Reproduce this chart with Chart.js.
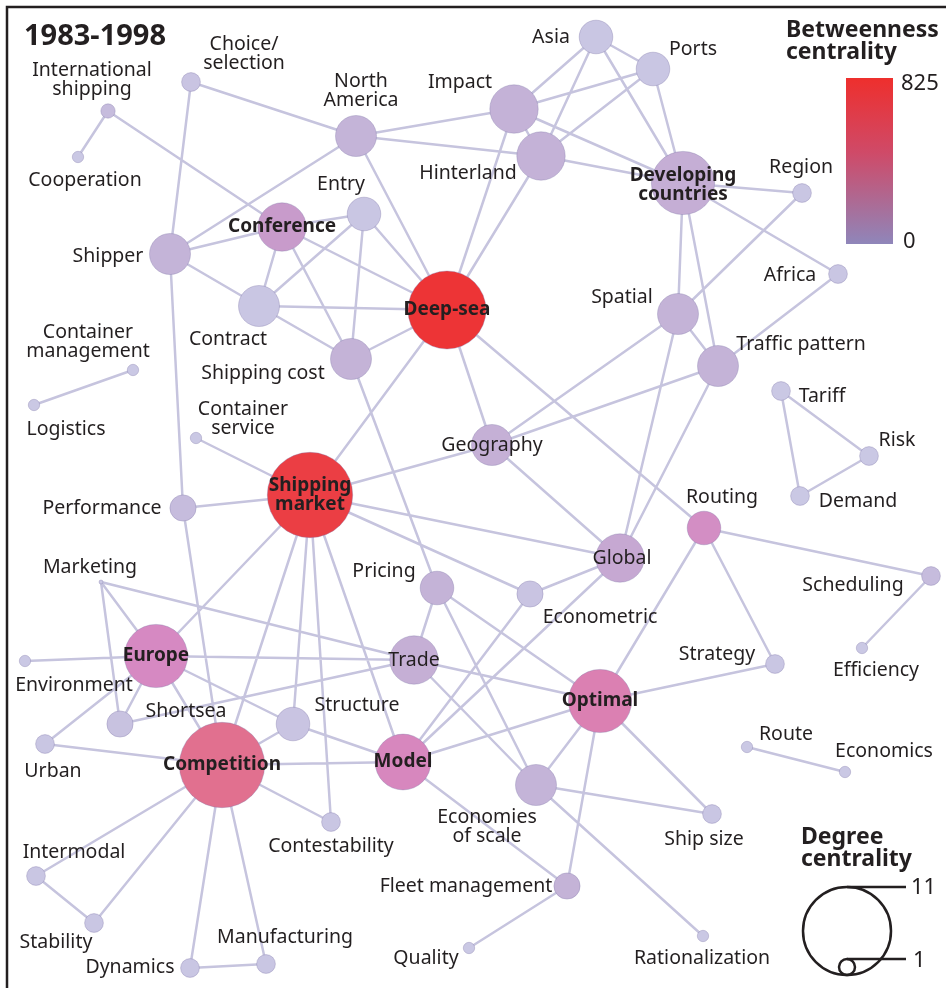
<!DOCTYPE html>
<html>
<head>
<meta charset="utf-8">
<script src="https://cdn.jsdelivr.net/npm/chart.js@4.4.1/dist/chart.umd.min.js"></script>
<style>
  body { margin: 0; background: #fff; }
  #wrap { width: 946px; height: 988px; }
</style>
</head>
<body>
<div id="wrap"><canvas id="net" width="946" height="988"></canvas></div>
<script>
// keywords (nodes) of the 1983-1998 network
const nodeNames = [
    "International\nshipping", "Cooperation", "Choice/\nselection", "North\nAmerica", "Impact",
    "Asia", "Ports", "Hinterland", "Developing\ncountries", "Region",
    "Africa", "Conference", "Entry", "Shipper", "Contract",
    "Deep-sea", "Shipping cost", "Spatial", "Traffic pattern", "Container\nmanagement",
    "Logistics", "Container\nservice", "Geography", "Tariff", "Risk",
    "Demand", "Performance", "Shipping\nmarket", "Routing", "Global",
    "Scheduling", "Marketing", "Pricing", "Econometric", "Efficiency",
    "Europe", "Environment", "Trade", "Strategy", "Optimal",
    "Shortsea", "Structure", "Urban", "Competition", "Model",
    "Route", "Economics", "Economies\nof scale", "Ship size", "Contestability",
    "Intermodal", "Stability", "Fleet management", "Quality", "Rationalization",
    "Manufacturing", "Dynamics"
];
// layout coordinates
const nodeX = [108, 78, 191, 356, 514, 596, 653, 541, 683, 802, 838, 282, 364, 170, 259, 447, 351, 678, 718, 133,
    34, 196, 492, 781, 869, 800, 183, 310, 704, 620, 931, 101, 437, 530, 862, 156, 25, 414, 775, 600,
    120, 293, 45, 222, 403, 747, 845, 536, 712, 331, 36, 94, 567, 469, 703, 266, 190];
const nodeY = [111, 157, 82, 136, 109, 37, 69, 156, 183, 193, 274, 227, 214, 254, 306, 310, 359, 314, 366, 370,
    405, 438, 445, 391, 456, 496, 508, 495, 528, 558, 576, 582, 588, 594, 648, 656, 661, 660, 664, 701,
    724, 724, 744, 765, 762, 747, 772, 785, 814, 822, 876, 923, 886, 948, 936, 964, 968];
// degree centrality (as drawn)
const nodeDegree = [1.4, 1, 2, 5, 6, 4, 4, 6, 8, 2, 2, 6, 4, 5, 5, 10, 5, 5, 5, 1,
    1, 1, 5, 2, 2, 2, 3, 11, 4, 6, 2, 0, 4, 3, 1, 8, 1, 6, 2, 8,
    3, 4, 2, 11, 7, 1, 1, 5, 2, 2, 2, 2, 3, 1, 1, 2, 2];
// betweenness centrality (estimated from colour, 0-825)
const nodeBetweenness = [60, 0, 20, 100, 120, 10, 10, 120, 150, 10, 10, 300, 10, 100, 10, 810, 110, 110, 110, 0,
    0, 0, 130, 0, 0, 0, 60, 770, 360, 200, 60, 0, 110, 20, 0, 380, 0, 140, 10, 420,
    30, 20, 10, 560, 390, 0, 0, 100, 10, 10, 10, 10, 110, 0, 0, 10, 10];
const boldNodes = ["Developing\ncountries", "Conference", "Deep-sea", "Shipping\nmarket", "Europe", "Optimal", "Competition", "Model"];

const edges = [
    ["International\nshipping", "Cooperation"], ["International\nshipping", "Conference"],
    ["Choice/\nselection", "North\nAmerica"], ["Choice/\nselection", "Shipper"],
    ["Shipper", "North\nAmerica"], ["Shipper", "Conference"], ["Shipper", "Contract"], ["Shipper", "Performance"],
    ["North\nAmerica", "Impact"], ["North\nAmerica", "Hinterland"], ["North\nAmerica", "Deep-sea"],
    ["Impact", "Asia"], ["Impact", "Ports"], ["Impact", "Developing\ncountries"], ["Impact", "Deep-sea"], ["Impact", "Hinterland"],
    ["Hinterland", "Asia"], ["Hinterland", "Ports"], ["Hinterland", "Developing\ncountries"], ["Hinterland", "Deep-sea"],
    ["Asia", "Ports"], ["Asia", "Developing\ncountries"], ["Ports", "Developing\ncountries"],
    ["Developing\ncountries", "Region"], ["Developing\ncountries", "Africa"], ["Developing\ncountries", "Spatial"], ["Developing\ncountries", "Traffic pattern"],
    ["Region", "Spatial"], ["Africa", "Traffic pattern"], ["Spatial", "Traffic pattern"],
    ["Spatial", "Geography"], ["Spatial", "Global"], ["Traffic pattern", "Geography"], ["Traffic pattern", "Global"],
    ["Conference", "Entry"], ["Conference", "Contract"], ["Conference", "Shipping cost"], ["Conference", "Deep-sea"],
    ["Entry", "Contract"], ["Entry", "Shipping cost"], ["Entry", "Deep-sea"],
    ["Contract", "Shipping cost"], ["Contract", "Deep-sea"], ["Shipping cost", "Deep-sea"], ["Shipping cost", "Pricing"],
    ["Deep-sea", "Shipping\nmarket"], ["Deep-sea", "Geography"], ["Deep-sea", "Routing"],
    ["Container\nmanagement", "Logistics"], ["Container\nservice", "Shipping\nmarket"],
    ["Geography", "Shipping\nmarket"], ["Geography", "Global"],
    ["Tariff", "Risk"], ["Tariff", "Demand"], ["Risk", "Demand"],
    ["Performance", "Shipping\nmarket"], ["Performance", "Competition"],
    ["Shipping\nmarket", "Global"], ["Shipping\nmarket", "Econometric"], ["Shipping\nmarket", "Europe"],
    ["Shipping\nmarket", "Competition"], ["Shipping\nmarket", "Structure"], ["Shipping\nmarket", "Contestability"], ["Shipping\nmarket", "Model"],
    ["Routing", "Scheduling"], ["Routing", "Strategy"], ["Routing", "Optimal"], ["Scheduling", "Efficiency"],
    ["Global", "Econometric"], ["Global", "Model"], ["Econometric", "Model"],
    ["Marketing", "Europe"], ["Marketing", "Shortsea"], ["Marketing", "Trade"],
    ["Environment", "Europe"], ["Europe", "Trade"], ["Europe", "Shortsea"], ["Europe", "Urban"], ["Europe", "Structure"], ["Europe", "Competition"],
    ["Shortsea", "Trade"], ["Urban", "Competition"],
    ["Pricing", "Trade"], ["Pricing", "Economies\nof scale"], ["Pricing", "Optimal"],
    ["Trade", "Optimal"], ["Trade", "Economies\nof scale"],
    ["Structure", "Competition"], ["Structure", "Model"], ["Competition", "Model"],
    ["Competition", "Intermodal"], ["Competition", "Stability"], ["Competition", "Dynamics"], ["Competition", "Manufacturing"], ["Competition", "Contestability"],
    ["Intermodal", "Stability"], ["Dynamics", "Manufacturing"],
    ["Model", "Optimal"], ["Model", "Fleet management"],
    ["Optimal", "Strategy"], ["Optimal", "Ship size"], ["Optimal", "Economies\nof scale"], ["Optimal", "Fleet management"],
    ["Economies\nof scale", "Ship size"], ["Economies\nof scale", "Rationalization"],
    ["Fleet management", "Quality"], ["Route", "Economics"]
];

// where each label sits, relative to its node (px)
const labelOffset = {
    "International\nshipping": [-16, -31], "Cooperation": [7, 23], "Choice/\nselection": [53, -28],
    "North\nAmerica": [5, -45], "Impact": [-54, -27], "Asia": [-45, 0], "Ports": [40, -20],
    "Hinterland": [-73, 17], "Region": [-1, -26], "Africa": [-48, 1], "Entry": [-23, -30],
    "Shipper": [-62, 2], "Contract": [-31, 33], "Shipping cost": [-88, 14], "Spatial": [-56, -17],
    "Traffic pattern": [83, -22], "Container\nmanagement": [-45, -28], "Logistics": [32, 24],
    "Container\nservice": [47, -19], "Tariff": [41, 5], "Risk": [28, -16], "Demand": [58, 5],
    "Performance": [-81, 0], "Routing": [18, -31], "Global": [2, 0], "Scheduling": [-78, 9],
    "Marketing": [-11, -15], "Pricing": [-53, -17], "Econometric": [70, 23], "Efficiency": [14, 22],
    "Environment": [49, 24], "Strategy": [-58, -10], "Shortsea": [66, -13], "Structure": [64, -19],
    "Urban": [8, 27], "Route": [39, -13], "Economics": [39, -21], "Economies\nof scale": [-49, 42],
    "Ship size": [-8, 25], "Contestability": [0, 24], "Intermodal": [38, -24], "Stability": [-38, 19],
    "Fleet management": [-101, 0], "Quality": [-43, 10], "Rationalization": [-1, 22],
    "Manufacturing": [19, -27], "Dynamics": [-60, -1], "Developing\ncountries": [0, 2]
};

const colorStops = [
    [0, [202, 200, 228]], [100, [196, 180, 216]], [300, [200, 155, 203]], [380, [214, 137, 194]],
    [420, [219, 128, 178]], [560, [225, 112, 143]], [760, [234, 64, 72]], [825, [238, 48, 48]]
];
function betweenColor(v) {
    for (let i = 1; i < colorStops.length; i++) {
        if (v <= colorStops[i][0]) {
            const a = colorStops[i - 1], b = colorStops[i];
            const t = (v - a[0]) / (b[0] - a[0]);
            const c = a[1].map(function (k, j) { return Math.round(k + (b[1][j] - k) * t); });
            return "rgb(" + c.join(",") + ")";
        }
    }
    return "rgb(238,48,48)";
}
function radiusFor(deg) {
    return 2 + 3.7 * deg;
}

// edge segments, separated by gaps
const edgeData = [];
edges.forEach(function (e) {
    const a = nodeNames.indexOf(e[0]), b = nodeNames.indexOf(e[1]);
    edgeData.push({x: nodeX[a], y: nodeY[a]});
    edgeData.push({x: nodeX[b], y: nodeY[b]});
    edgeData.push({x: nodeX[b], y: null});
});
const nodeData = nodeNames.map(function (n, i) {
    return {x: nodeX[i], y: nodeY[i]};
});

const FONT = '"Noto Sans", "Open Sans", sans-serif';

const drawExtras = {
    id: 'drawExtras',
    afterDatasetsDraw(chart) {
        const ctx = chart.ctx, sx = chart.scales.x, sy = chart.scales.y;
        ctx.save();
        ctx.textAlign = 'center';
        ctx.textBaseline = 'middle';
        ctx.fillStyle = '#231f20';
        nodeNames.forEach(function (name, i) {
            const bold = boldNodes.indexOf(name) >= 0;
            const off = labelOffset[name] || [0, 0];
            const px = sx.getPixelForValue(nodeX[i]) + off[0];
            const py = sy.getPixelForValue(nodeY[i]) + off[1];
            const lines = name.split("\n");
            const lh = bold ? 19 : 19;
            ctx.font = bold ? ('bold 19px ' + FONT) : ('19.5px ' + FONT);
            lines.forEach(function (ln, k) {
                ctx.fillText(ln, px, py + (k - (lines.length - 1) / 2) * lh);
            });
        });

        // frame
        ctx.strokeStyle = '#231f20';
        ctx.lineWidth = 2.5;
        ctx.beginPath();
        ctx.moveTo(7, 990);
        ctx.lineTo(7, 7);
        ctx.lineTo(950, 7);
        ctx.stroke();

        ctx.textAlign = 'left';
        ctx.textBaseline = 'alphabetic';
        ctx.font = 'bold 29px ' + FONT;
        ctx.fillText('1983-1998', 24, 45);

        // betweenness legend
        ctx.font = 'bold 23px ' + FONT;
        ctx.fillText('Betweenness', 786, 37);
        ctx.fillText('centrality', 786, 59);
        const g = ctx.createLinearGradient(0, 78, 0, 244);
        g.addColorStop(0, '#ee2f2d');
        g.addColorStop(0.45, '#cf4a68');
        g.addColorStop(1, '#8f86ba');
        ctx.fillStyle = g;
        ctx.fillRect(846, 78, 47, 166);
        ctx.fillStyle = '#231f20';
        ctx.font = '22px ' + FONT;
        ctx.fillText('825', 901, 90);
        ctx.fillText('0', 903, 248);

        // degree legend
        ctx.font = 'bold 23px ' + FONT;
        ctx.fillText('Degree', 801, 844);
        ctx.fillText('centrality', 801, 866);
        ctx.lineWidth = 2.5;
        ctx.beginPath();
        ctx.arc(847, 931, 44, 0, Math.PI * 2);
        ctx.stroke();
        ctx.beginPath();
        ctx.arc(847, 967, 8, 0, Math.PI * 2);
        ctx.stroke();
        ctx.beginPath();
        ctx.moveTo(847, 887);
        ctx.lineTo(906, 887);
        ctx.moveTo(847, 959);
        ctx.lineTo(906, 959);
        ctx.stroke();
        ctx.font = '22px ' + FONT;
        ctx.textBaseline = 'middle';
        ctx.fillText('11', 911, 888);
        ctx.fillText('1', 913, 961);
        ctx.restore();
    }
};

new Chart(document.getElementById('net'), {
    type: 'scatter',
    data: {
        datasets: [{
            label: 'edges',
            data: edgeData,
            showLine: true,
            spanGaps: false,
            borderColor: '#c6c4de',
            borderWidth: 2.5,
            pointRadius: 0,
            clip: false,
            order: 2
        }, {
            label: 'nodes',
            data: nodeData,
            pointRadius: nodeDegree.map(radiusFor),
            backgroundColor: nodeBetweenness.map(betweenColor),
            borderColor: 'rgba(130,120,170,0.35)',
            borderWidth: 1,
            clip: false,
            order: 1
        }]
    },
    options: {
        responsive: false,
        animation: false,
        devicePixelRatio: 1,
        layout: {padding: 0, autoPadding: false},
        plugins: {legend: {display: false}, tooltip: {enabled: false}},
        scales: {
            x: {type: 'linear', min: 0, max: 946, display: false},
            y: {type: 'linear', min: 0, max: 988, reverse: true, display: false}
        }
    },
    plugins: [drawExtras]
});
</script>
</body>
</html>
